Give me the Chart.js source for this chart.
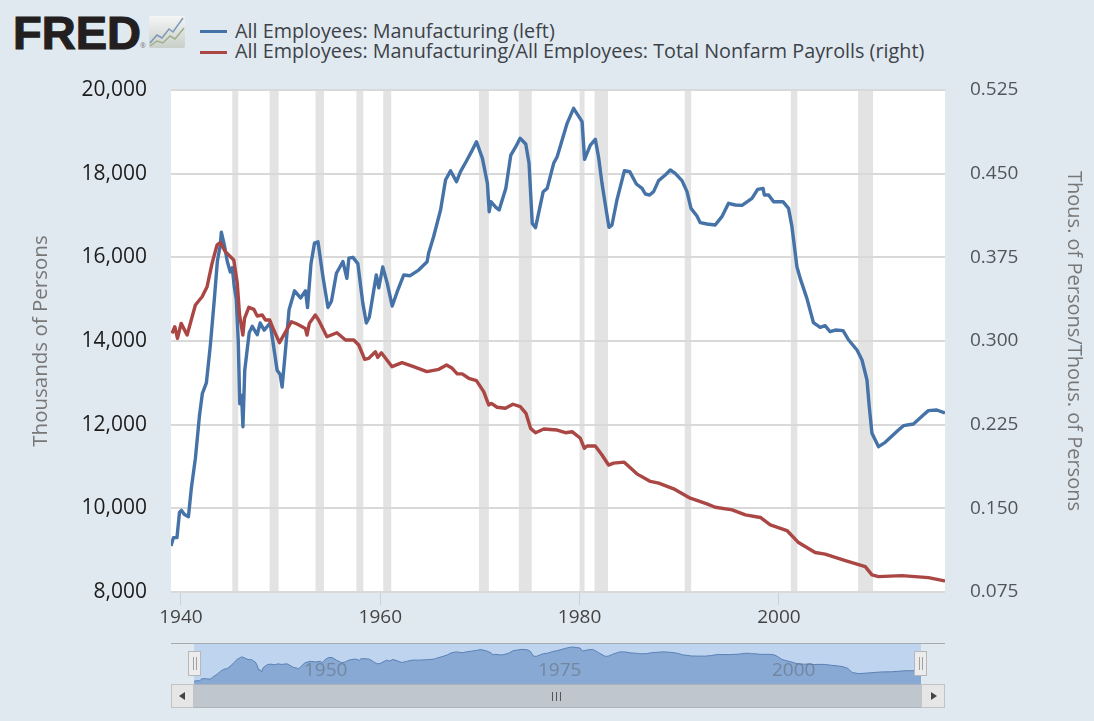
<!DOCTYPE html>
<html>
<head>
<meta charset="utf-8">
<title>FRED</title>
<script src="https://cdn.jsdelivr.net/npm/chart.js@4"></script>
<style>
  html, body { margin: 0; padding: 0; }
  body { width: 1094px; height: 721px; background: #e1e9f0; position: relative; overflow: hidden; font-family: "Open Sans", sans-serif; }
  canvas { position: absolute; display: block; }
  .abs { position: absolute; }
  #fred { left: 13px; top: 5px; font: bold 47px "Liberation Sans", sans-serif; letter-spacing: 0; color: #231f20; -webkit-text-stroke: 1.2px #231f20; }
  #reg { left: 140px; top: 41px; font-size: 7px; color: #777; }
  .swatch { width: 27px; height: 3px; left: 200px; }
  .legend { left: 235px; font-size: 19.8px; line-height: 20px; color: #3c4248; white-space: nowrap; }
  #navBg { left: 194px; top: 644px; width: 727px; height: 40px; background: #bfd4ee; }
  #navLine { left: 171px; top: 643px; width: 774px; height: 1px; background: #a6abb0; }
  #track { left: 171px; top: 684px; width: 774px; height: 24px; background: #bfc6cd; border-bottom: 1px solid #adb3b9; box-sizing: border-box; border-top: 1px solid #aab2ba; }
  .btn { top: 684px; width: 23px; height: 24px; background: #e6e6e6; border: 1px solid #c0c4c8; box-sizing: border-box; }
  .arrow { top: 692px; width: 0; height: 0; border-top: 4px solid transparent; border-bottom: 4px solid transparent; }
  .handle { top: 651px; width: 13px; height: 25px; background: #ececec; border: 1px solid #b4b8bc; box-sizing: border-box; }
  .handle i { position: absolute; top: 5px; width: 1px; height: 13px; background: #a0a0a0; }
  #grip { left: 551px; top: 691px; width: 12px; height: 11px; font-size: 0; }
  #grip i { position: absolute; top: 1px; width: 1px; height: 9px; background: #555; }
</style>
</head>
<body>
<div class="abs" id="fred">FRED</div>
<div class="abs" id="reg">®</div>
<svg class="abs" style="left:149px;top:16px" width="36" height="33" viewBox="0 0 36 33">
  <defs><linearGradient id="g" x1="0" y1="0" x2="0" y2="1"><stop offset="0" stop-color="#f4f5f5"/><stop offset="1" stop-color="#c9cfc9"/></linearGradient></defs>
  <rect width="36" height="32" rx="2" fill="url(#g)"/>
  <polyline points="1,27 8,19 13,22 20,13 24,16 34,2" fill="none" stroke="#7f97b8" stroke-width="1.5"/>
  <polyline points="1,30 8,25 14,27 21,20 26,23 35,12" fill="none" stroke="#9cb08c" stroke-width="1.5"/>
</svg>
<div class="abs swatch" style="top:30px;background:#4572a7"></div>
<div class="abs swatch" style="top:51px;background:#aa4643"></div>
<div class="abs legend" style="top:21px">All Employees: Manufacturing (left)</div>
<div class="abs legend" style="top:41px">All Employees: Manufacturing/All Employees: Total Nonfarm Payrolls (right)</div>

<canvas id="main" width="1094" height="640" style="left:0;top:0"></canvas>

<div class="abs" id="navBg"></div>
<canvas id="nav" width="774" height="40" style="left:171px;top:644px"></canvas>
<div class="abs" id="navLine"></div>
<div class="abs" id="track"></div>
<div class="abs btn" style="left:171px"></div>
<div class="abs btn" style="left:921px;width:24px"></div>
<div class="abs arrow" style="left:179px;border-right:6px solid #444"></div>
<div class="abs arrow" style="left:931px;border-left:6px solid #444"></div>
<div class="abs" id="grip"><i style="left:1px"></i><i style="left:5px"></i><i style="left:9px"></i></div>
<div class="abs handle" style="left:188px"><i style="left:4px"></i><i style="left:7px"></i></div>
<div class="abs handle" style="left:914px"><i style="left:4px"></i><i style="left:7px"></i></div>

<script>
// Manufacturing, thousands of persons
const mfgYears = [1939, 1939.25, 1939.6, 1939.85, 1940.05, 1940.35, 1940.75, 1941.05, 1941.45, 1941.85, 1942.15, 1942.55, 1942.95, 1943.35, 1943.65, 1943.95, 1944.05, 1944.35, 1944.65, 1944.95, 1945.15, 1945.35, 1945.55, 1945.75, 1945.9, 1946.05, 1946.12, 1946.22,
  1946.4, 1946.85, 1947.15, 1947.65, 1947.95, 1948.35, 1948.95, 1949.65, 1949.95, 1950.15, 1950.4, 1950.85, 1951.4, 1952, 1952.5, 1952.7, 1953.05, 1953.4, 1953.75, 1954.25, 1954.75, 1955.1, 1955.6, 1956.25, 1956.65, 1956.85, 1957.25, 1957.75, 1958.25, 1958.6, 1958.9, 1959.6, 1959.85, 1960.25,
  1960.7, 1961.2, 1961.7, 1962.35, 1963, 1963.85, 1964.7, 1964.85, 1965.35, 1966.05, 1966.55, 1967.05, 1967.65, 1968.05, 1968.65, 1969.15, 1969.65, 1970.25, 1970.75, 1970.93, 1971.1, 1971.6, 1971.93, 1972.6, 1973.1, 1973.6, 1974.03, 1974.6, 1974.93, 1975.25, 1975.58,
  1976.35, 1976.75, 1977.4, 1977.75, 1978.75, 1979.4, 1980.25, 1980.5, 1981.08, 1981.58, 1981.9, 1982.25, 1982.75, 1982.95, 1983.25, 1983.75, 1984.5, 1985.03, 1985.7, 1986.27, 1986.6, 1987.03, 1987.43, 1987.93, 1988.6, 1989.1, 1989.6, 1990.28, 1990.78, 1991.18, 1991.78, 1992.11, 1992.78, 1993.61, 1994.28, 1994.95, 1995.63, 1996.3, 1997.3, 1997.87, 1998.41, 1998.54, 1998.97, 1999.47, 2000.41, 2000.97, 2001.31, 2001.81, 2002.14, 2002.81, 2003.47, 2004.14, 2004.64, 2005.14, 2005.67, 2006.44, 2007, 2007.84, 2008.34, 2008.84, 2009.07, 2009.34, 2010, 2010.67, 2012, 2012.5, 2013.5, 2014.5, 2015, 2015.84, 2016.5, 2016.67];
const mfgValues = [9100, 9300, 9300, 9900, 9950, 9850, 9800, 10500, 11200, 12200, 12750, 13000, 13900, 15000, 15900, 16300, 16600, 16300, 15900, 15650, 15750, 15300, 15000, 14000, 12500, 12700, 12500, 11950,
  13300, 14200, 14350, 14150, 14430, 14260, 14430, 13300, 13200, 12900, 13550, 14750, 15200, 15030, 15200, 14800, 15850, 16340, 16370, 15530, 14800, 14950, 15620, 15900, 15500, 15980, 16000, 15850, 14900, 14430, 14570, 15580, 15270, 15770,
  15377, 14836, 15178, 15577, 15561, 15696, 15896, 16095, 16493, 17131, 17848, 18071, 17808, 18048, 18302, 18526, 18765, 18366, 17768, 17091, 17330, 17195, 17131, 17649, 18446, 18645, 18845, 18709, 18247, 16812, 16708,
  17569, 17649, 18247, 18406, 19203, 19562, 19243, 18342, 18685, 18821, 18406, 17768, 17011, 16717, 16772, 17370, 18072, 18048, 17753, 17649, 17514, 17490, 17570, 17833, 17968, 18088, 18008, 17833, 17570, 17171, 16988, 16828, 16796, 16772, 16972, 17291, 17251, 17243, 17410, 17625, 17649, 17490, 17490, 17330, 17330, 17171, 16733, 15776, 15497, 15019, 14437, 14326, 14366, 14222, 14262, 14248, 14024, 13785, 13546, 13068, 12430, 11793, 11474, 11578, 11872, 11976, 12016, 12231, 12335, 12351, 12295, 12280];

// Manufacturing share of nonfarm payrolls
const shareYears = [1939.1, 1939.38, 1939.65, 1940.02, 1940.62, 1941.12, 1941.45, 1942.12, 1942.62, 1943.12, 1943.62, 1943.95, 1944.45, 1945.3, 1945.65, 1945.88, 1946.21, 1946.38, 1946.81, 1947.31, 1947.65, 1948.15, 1948.48, 1948.91, 1949.31, 1949.88, 1950.41, 1951.08, 1951.65, 1952.48, 1952.65, 1952.88, 1953.48, 1953.81, 1954.65, 1955.65, 1956.51, 1957.34, 1957.84, 1958.44, 1958.84, 1959.51, 1959.74, 1960.11,
  1961.18, 1962.18, 1963.34, 1964.68, 1965.88, 1966.65, 1967.22, 1967.72, 1968.22, 1968.88, 1969.65, 1970.38, 1970.88, 1971.15, 1971.72, 1972.55, 1973.32, 1974.05, 1974.62, 1975.08, 1975.58, 1976.41, 1977.75, 1978.58, 1979.25, 1980.08, 1980.48, 1980.75, 1981.58, 1982.25, 1982.91,
  1983.41, 1984.48, 1985.75, 1987.11, 1987.94, 1989.44, 1991.11, 1992.78, 1993.61, 1995.31, 1996.64, 1998.14, 1999.14, 2000.81, 2001.97, 2003.64, 2004.64, 2006.67, 2008.67, 2009.34, 2010, 2012.34, 2015, 2016.5, 2016.67];
const shareValues = [0.3068, 0.3128, 0.3023, 0.3158, 0.3053, 0.3218, 0.3323, 0.3397, 0.3487, 0.3696, 0.3861, 0.3882, 0.3801, 0.3726, 0.3517, 0.3233, 0.3053, 0.3203, 0.3302, 0.3284, 0.3224, 0.3233, 0.3188, 0.3188, 0.3098, 0.2985, 0.3068, 0.3173, 0.3152, 0.3113, 0.3053, 0.3158, 0.3233, 0.3188, 0.3038, 0.3074, 0.3009, 0.3009, 0.2964, 0.2835, 0.2844, 0.2904, 0.2853, 0.2895,
  0.2770, 0.2806, 0.2770, 0.2726, 0.2746, 0.2785, 0.2755, 0.2705, 0.2705, 0.2666, 0.2645, 0.2546, 0.2427, 0.2441, 0.2406, 0.2397, 0.2433, 0.2412, 0.2352, 0.2217, 0.2178, 0.2211, 0.2202, 0.2178, 0.2187, 0.2128, 0.2038, 0.2059, 0.2059, 0.1978, 0.1888,
  0.1905, 0.1914, 0.1809, 0.1741, 0.1726, 0.1675, 0.1591, 0.1540, 0.1510, 0.1486, 0.1442, 0.1418, 0.1352, 0.1301, 0.1193, 0.1104, 0.1089, 0.1032, 0.0978, 0.0903, 0.0888, 0.0897, 0.0879, 0.0852, 0.0848];

// NBER recessions (shaded)
const recessionStart = [1945.15, 1948.9, 1953.5, 1957.6, 1960.3, 1969.9, 1973.9, 1980, 1981.5, 1990.55, 2001.2, 2007.95];
const recessionEnd = [1945.75, 1949.8, 1954.35, 1958.3, 1961.1, 1970.9, 1975.2, 1980.5, 1982.85, 1991.2, 2001.85, 2009.45];

const leftTicks = [8000, 10000, 12000, 14000, 16000, 18000, 20000];
const rightTicks = [0.075, 0.15, 0.225, 0.3, 0.375, 0.45, 0.525];
const yearTicks = [1940, 1960, 1980, 2000];
const navLabels = [1950, 1975, 2000];

const xMin = 1939, xMax = 2016.67;
const font = "'Open Sans', sans-serif";

const recessionBands = {
  id: 'recessionBands',
  beforeDraw(chart) {
    const { ctx, chartArea: a, scales } = chart;
    ctx.save();
    ctx.fillStyle = '#fff';
    ctx.fillRect(a.left, a.top, a.right - a.left, a.bottom - a.top);
    ctx.fillStyle = '#e3e3e3';
    recessionStart.forEach((s, i) => {
      const x0 = scales.x.getPixelForValue(s), x1 = scales.x.getPixelForValue(recessionEnd[i]);
      ctx.fillRect(x0, a.top, x1 - x0, a.bottom - a.top);
    });
    ctx.restore();
  }
};

new Chart(document.getElementById('main'), {
  type: 'line',
  plugins: [recessionBands],
  data: {
    datasets: [
      { label: 'All Employees: Manufacturing (left)', data: mfgYears.map((x, i) => ({ x, y: mfgValues[i] })), yAxisID: 'y', borderColor: '#4572a7', borderWidth: 3.4, borderJoinStyle: 'round', pointRadius: 0, order: 2 },
      { label: 'All Employees: Manufacturing/All Employees: Total Nonfarm Payrolls (right)', data: shareYears.map((x, i) => ({ x, y: shareValues[i] })), yAxisID: 'y1', borderColor: '#aa4643', borderWidth: 3.4, borderJoinStyle: 'round', pointRadius: 0, order: 1 }
    ]
  },
  options: {
    responsive: false,
    animation: false,
    layout: { padding: { top: 90, left: 0, right: 0, bottom: 0 } },
    plugins: { legend: { display: false }, tooltip: { enabled: false } },
    scales: {
      x: {
        type: 'linear', min: xMin, max: xMax,
        afterBuildTicks: s => { s.ticks = yearTicks.map(value => ({ value })); },
        afterFit: s => { s.height = 48; },
        grid: { drawOnChartArea: false, tickLength: 13, color: '#c8d0d8' },
        border: { display: false },
        ticks: { callback: v => String(v), color: '#444', font: { family: font, size: 19 }, padding: 1, maxRotation: 0 }
      },
      y: {
        position: 'left', min: 8000, max: 20000,
        afterBuildTicks: s => { s.ticks = leftTicks.map(value => ({ value })); },
        afterFit: s => { s.width = 171; },
        grid: { color: '#d9d9d9', lineWidth: 2, drawTicks: false },
        border: { display: false },
        ticks: { callback: v => v.toLocaleString('en-US'), color: '#1c1c1c', font: { family: font, size: 21 }, padding: 24 },
        title: { display: true, text: 'Thousands of Persons', color: '#777', font: { family: font, size: 20.5 }, padding: { top: 29, bottom: 0 } }
      },
      y1: {
        position: 'right', min: 0.075, max: 0.525,
        afterBuildTicks: s => { s.ticks = rightTicks.map(value => ({ value })); },
        afterFit: s => { s.width = 149; },
        grid: { drawOnChartArea: false, drawTicks: false },
        border: { display: false },
        ticks: { callback: v => v.toFixed(3), color: '#50565c', font: { family: font, size: 19 }, padding: 25 },
        title: { display: true, text: 'Thous. of Persons/Thous. of Persons', color: '#777', font: { family: font, size: 20 }, padding: { top: 8, bottom: 0 } }
      }
    }
  }
});

// Navigator strip under the chart
const navYearLabels = {
  id: 'navYearLabels',
  afterDatasetsDraw(chart) {
    const { ctx, scales } = chart;
    ctx.save();
    ctx.font = "19px " + font;
    ctx.fillStyle = 'rgba(105,115,130,0.65)';
    ctx.textBaseline = 'middle';
    navLabels.forEach(v => ctx.fillText(String(v), scales.x.getPixelForValue(v) + 7, 27));
    ctx.restore();
  }
};

new Chart(document.getElementById('nav'), {
  type: 'line',
  plugins: [navYearLabels],
  data: {
    datasets: [{ data: mfgYears.map((x, i) => ({ x, y: mfgValues[i] })), borderColor: '#5a80b4', backgroundColor: '#88a9d4', borderWidth: 1, pointRadius: 0, fill: 'start' }]
  },
  options: {
    responsive: false,
    animation: false,
    layout: { padding: { left: 23, right: 24, top: 0, bottom: 0 } },
    plugins: { legend: { display: false }, tooltip: { enabled: false } },
    scales: {
      x: { type: 'linear', min: xMin, max: xMax, display: false },
      y: { min: 8300, max: 20470, display: false }
    }
  }
});
</script>
</body>
</html>
